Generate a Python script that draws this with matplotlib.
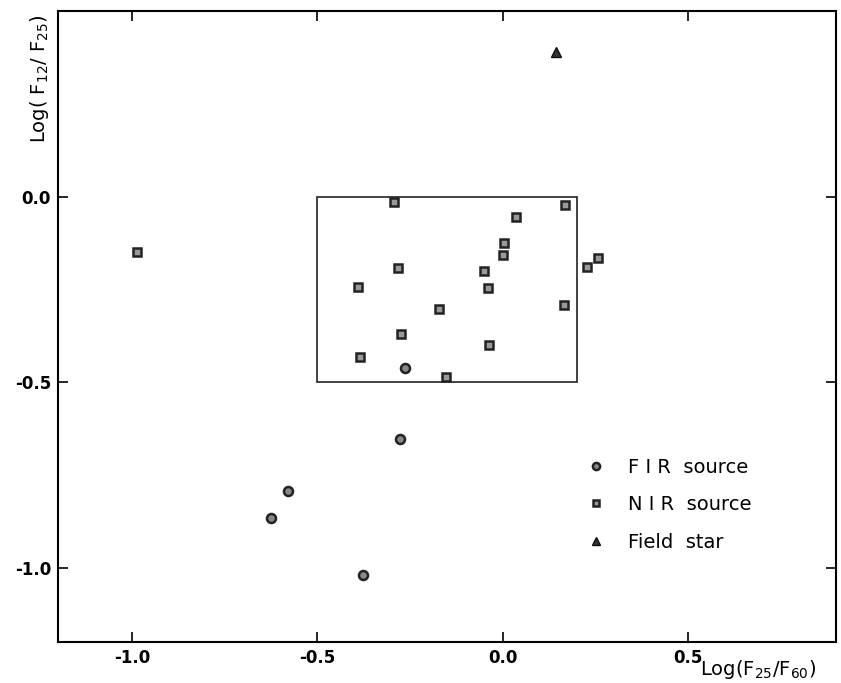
import matplotlib
matplotlib.use("Agg")
import matplotlib.pyplot as plt
from matplotlib.patches import Rectangle

# FIR sources
fir_x = [-0.264, -0.277, -0.580, -0.624, -0.378]
fir_y = [-0.462, -0.654, -0.792, -0.867, -1.020]

# NIR sources
nir_x = [-0.293, 0.168, 0.036, 0.004, 0.001, 0.257, 0.228, -0.283, -0.049,
         -0.390, -0.039, -0.171, 0.167, -0.275, -0.036, -0.386, -0.152, -0.986]
nir_y = [-0.015, -0.023, -0.055, -0.124, -0.157, -0.165, -0.190, -0.192, -0.201,
         -0.243, -0.247, -0.302, -0.292, -0.369, -0.399, -0.431, -0.487, -0.149]

# field star
star_x = [0.144]
star_y = [0.389]

xticks = [-1.0, -0.5, 0.0, 0.5]
yticks = [-1.0, -0.5, 0.0]

fig = plt.figure(figsize=(8.41, 6.83), dpi=100)
ax = fig.add_axes([0.069, 0.060, 0.925, 0.924])

ax.plot(fir_x, fir_y, 'o', ms=6.5, mfc='#888888', mec='#222222', mew=1.8,
        label='F I R  source')
ax.plot(nir_x, nir_y, 's', ms=6, mfc='#999999', mec='#222222', mew=1.8,
        label='N I R  source')
ax.plot(star_x, star_y, '^', ms=7.5, mfc='#333333', mec='#111111', mew=1.0,
        label='Field  star')

ax.add_patch(Rectangle((-0.5, -0.5), 0.7, 0.5, fill=False, lw=1.2, ec='#222222'))

ax.set_xlim(-1.2, 0.9)
ax.set_ylim(-1.2, 0.5)
ax.set_xticks(xticks)
ax.set_yticks(yticks)
ax.set_xticklabels(['-1.0', '-0.5', '0.0', '0.5'], fontsize=12, fontweight='bold')
ax.set_yticklabels(['-1.0', '-0.5', '0.0'], fontsize=12, fontweight='bold')
ax.tick_params(axis='x', direction='in', top=True, length=7, width=1.2, pad=5)
ax.tick_params(axis='y', direction='in', right=True, length=7, width=1.2, pad=5)
for s in ax.spines.values():
    s.set_linewidth(1.5)

fig.text(0.832, 0.012, 'Log(F$_{25}$/F$_{60}$)', fontsize=14)
fig.text(0.047, 0.885, 'Log( F$_{12}$/ F$_{25}$)', fontsize=14, rotation=90,
         ha='center', va='center')

ax.legend(loc='upper left', bbox_to_anchor=(0.65, 0.32), frameon=False,
          fontsize=14, handletextpad=0.9, labelspacing=0.95, markerscale=0.8,
          handlelength=1.5)

fig.savefig('out.png', dpi=100)
